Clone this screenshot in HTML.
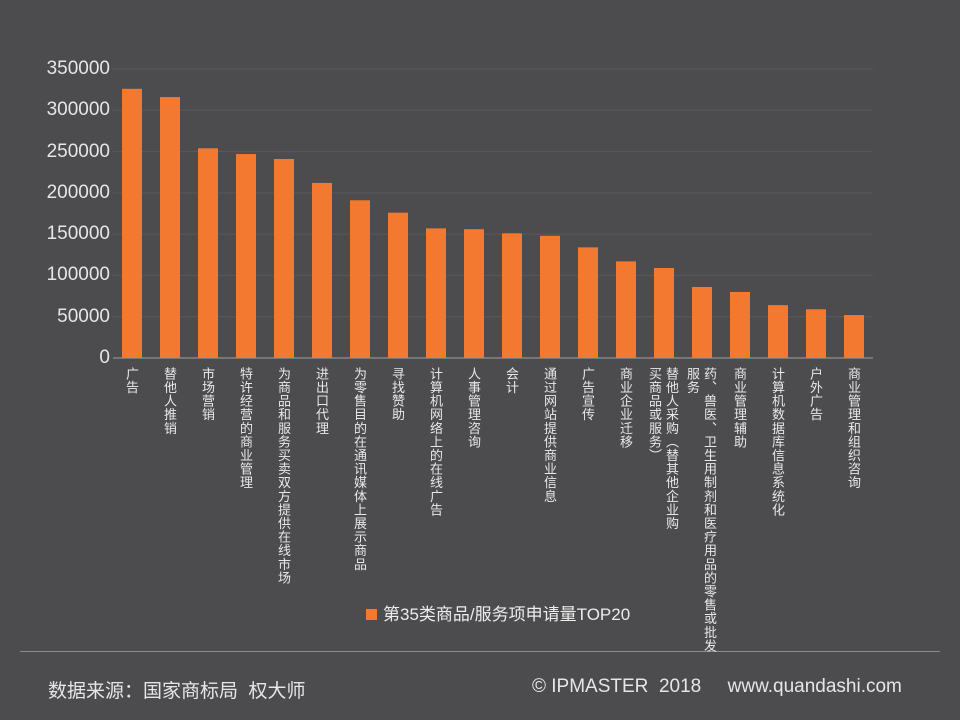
<!DOCTYPE html>
<html><head><meta charset="utf-8">
<style>
body{margin:0;width:960px;height:720px;overflow:hidden;background:#4c4c4e;font-family:"Liberation Sans","Noto Sans CJK SC",sans-serif;}
#wrap{position:relative;width:960px;height:720px;}
.ytick{position:absolute;right:850px;color:#e6e6e6;font-size:19px;line-height:20px;text-align:right;}
.xl{position:absolute;writing-mode:vertical-rl;text-orientation:upright;color:#e8e8e8;font-size:13px;letter-spacing:0.6px;line-height:16px;white-space:nowrap;}
.foot{position:absolute;color:#e6e6e6;top:676px;}
</style></head><body>
<div id="wrap">
<svg id="svg" width="960" height="720" style="position:absolute;left:0;top:0"></svg>
<div style="position:absolute;left:366px;top:600px;color:#ececec;font-size:17px;">
<span style="display:inline-block;width:11px;height:11px;background:#f47930;margin-right:6px;"></span><span>第35类商品/服务项申请量TOP20</span></div>
<div style="position:absolute;left:20px;top:651px;width:920px;height:1px;background:#8a8a8a"></div>
<div class="foot" style="left:48px;font-size:19px">数据来源：国家商标局&nbsp; 权大师</div>
<div class="foot" style="left:532px;font-size:19px">© IPMASTER&nbsp; 2018&nbsp;&nbsp;&nbsp;&nbsp; www.quandashi.com</div>
</div>
<script>
const categories=[["广告"],["替他人推销"],["市场营销"],["特许经营的商业管理"],["为商品和服务买卖双方提供在线市场"],["进出口代理"],["为零售目的在通讯媒体上展示商品"],["寻找赞助"],["计算机网络上的在线广告"],["人事管理咨询"],["会计"],["通过网站提供商业信息"],["广告宣传"],["商业企业迁移"],["替他人采购（替其他企业购","买商品或服务）"],["药、兽医、卫生用制剂和医疗用品的零售或批发","服务"],["商业管理辅助"],["计算机数据库信息系统化"],["户外广告"],["商业管理和组织咨询"]];
const values=[326000,316000,254000,247000,241000,212000,191000,176000,157000,156000,151000,148000,134000,117000,109000,86000,80000,64000,59000,52000];
const yTicks=[0,50000,100000,150000,200000,250000,300000,350000];
const X0=113,X1=873,Y0=358,Y1=69,YMAX=350000;
const y=v=>Y0-(v/YMAX)*(Y0-Y1);
const step=(X1-X0)/values.length;
const xc=i=>X0+step*(i+0.5);
const svg=document.getElementById('svg');const ns='http://www.w3.org/2000/svg';
const wrap=document.getElementById('wrap');
yTicks.forEach(t=>{
 const l=document.createElementNS(ns,'line');
 
 
 l.setAttribute('x1',X0);l.setAttribute('x2',X1);l.setAttribute('y1',y(t));l.setAttribute('y2',y(t));
 l.setAttribute('stroke',t===0?'#a0a0a0':'#5a5a5c');l.setAttribute('stroke-width',1);
 svg.appendChild(l);
 const d=document.createElement('div');
 
 
 d.className='ytick';d.style.top=(y(t)-10)+'px';d.textContent=t;wrap.appendChild(d);
});
values.forEach((v,i)=>{
 const r=document.createElementNS(ns,'rect');
 
 
 r.setAttribute('x',xc(i)-10);r.setAttribute('width',20);r.setAttribute('y',y(v));r.setAttribute('height',Y0-y(v));
 r.setAttribute('fill','#f47930');svg.appendChild(r);
 const lines=categories[i];
 lines.forEach((txt,j)=>{
  const d=document.createElement('div');
  
  
  d.className='xl';
  const off=lines.length>1?(j===0?8:-9):0;
  d.style.left=(xc(i)-9+off)+'px';d.style.top='367px';d.textContent=txt;wrap.appendChild(d);
 });
});
</script>
</body></html>
